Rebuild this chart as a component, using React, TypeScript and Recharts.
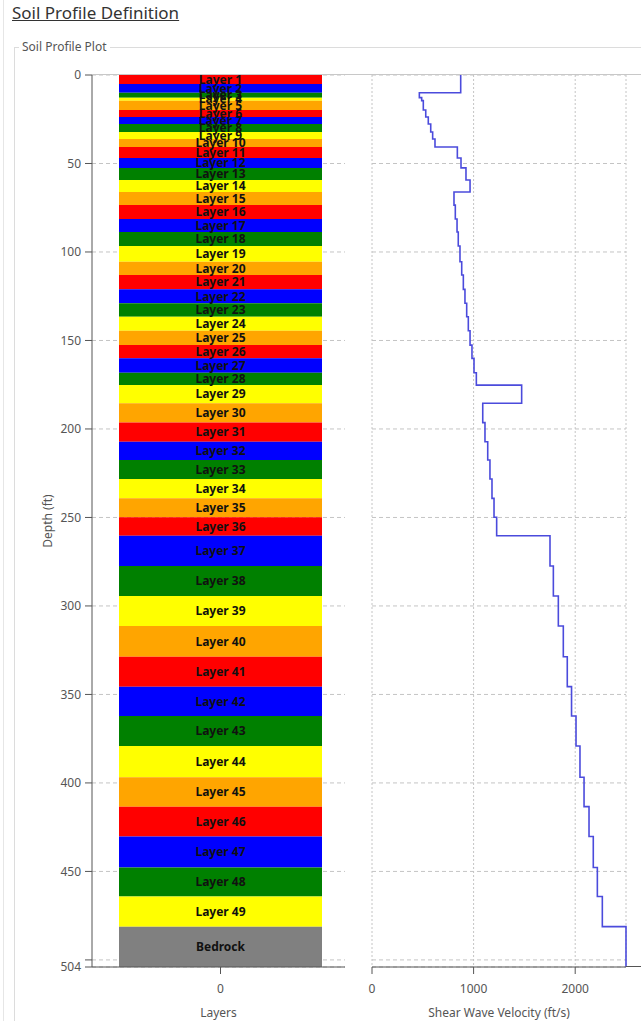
import React from 'react';
import {
  BarChart,
  Bar,
  LineChart,
  Line,
  XAxis,
  YAxis,
  CartesianGrid,
  LabelList,
} from 'recharts';

// layer names, top to bottom
const layerNames = [
  'Layer 1', 'Layer 2', 'Layer 3', 'Layer 4', 'Layer 5', 'Layer 6', 'Layer 7',
  'Layer 8', 'Layer 9', 'Layer 10', 'Layer 11', 'Layer 12', 'Layer 13', 'Layer 14',
  'Layer 15', 'Layer 16', 'Layer 17', 'Layer 18', 'Layer 19', 'Layer 20', 'Layer 21',
  'Layer 22', 'Layer 23', 'Layer 24', 'Layer 25', 'Layer 26', 'Layer 27', 'Layer 28',
  'Layer 29', 'Layer 30', 'Layer 31', 'Layer 32', 'Layer 33', 'Layer 34', 'Layer 35',
  'Layer 36', 'Layer 37', 'Layer 38', 'Layer 39', 'Layer 40', 'Layer 41', 'Layer 42',
  'Layer 43', 'Layer 44', 'Layer 45', 'Layer 46', 'Layer 47', 'Layer 48', 'Layer 49',
  'Bedrock',
];

// depth of the bottom of each layer (ft)
const layerBottoms = [
  5.1, 10.0, 12.8, 14.5, 19.8, 23.7, 27.7, 32.2, 36.2, 40.7,
  46.9, 52.5, 59.3, 66.1, 73.5, 81.4, 88.7, 96.6, 105.5, 113.0,
  121.1, 129.0, 136.6, 144.5, 152.6, 160.1, 168.2, 175.2, 185.5, 196.4,
  207.2, 217.5, 228.3, 239.2, 249.9, 260.3, 277.4, 294.4, 311.3, 328.7,
  345.6, 362.2, 379.1, 396.8, 413.4, 430.3, 447.8, 464.2, 481.2, 504,
];

// shear wave velocity of each layer (ft/s)
const shearVelocities = [
  873, 873, 466, 489, 505, 529, 554, 578, 597, 620,
  840, 876, 925, 965, 807, 820, 837, 849, 866, 883,
  899, 915, 932, 948, 965, 984, 1004, 1027, 1473, 1090,
  1112, 1139, 1161, 1181, 1201, 1227, 1752, 1785, 1834, 1883,
  1922, 1964, 2008, 2047, 2087, 2136, 2178, 2218, 2267, 2500,
];

const depthTicks = [0, 50, 100, 150, 200, 250, 300, 350, 400, 450, 500, 504];
const velocityTicks = [0, 1000, 2000];

const layerPalette = ['#ff0000', '#0000ff', '#008000', '#ffff00', '#ffa500'];
const bedrockColor = '#808080';

const FONT = '"Noto Sans", "Open Sans", sans-serif';
const AXIS = '#555';
const GRID = '#c4c4c4';

const layerTop = (i: number) => (i === 0 ? 0 : layerBottoms[i - 1]);

const layerRow: Record<string, number> = { layer: 0 };
layerNames.forEach((_, i) => {
  layerRow[`t${i}`] = layerBottoms[i] - layerTop(i);
});

// stepped profile: each layer is a vertical segment at its velocity
const profilePoints = layerNames.flatMap((_, i) => [
  { depth: layerTop(i), velocity: shearVelocities[i] },
  { depth: layerBottoms[i], velocity: shearVelocities[i] },
]);

const layerColor = (i: number) =>
  i === layerNames.length - 1 ? bedrockColor : layerPalette[i % layerPalette.length];

export default function App() {
  const tick = { fill: AXIS, fontSize: 12 };
  return (
    <div
      style={{
        position: 'relative',
        width: 641,
        height: 1021,
        overflow: 'hidden',
        background: '#fff',
        fontFamily: FONT,
      }}
    >
      <style>{'body{margin:0}'}</style>
      <div style={{ position: 'absolute', left: 3, top: 0, width: 1, height: 1021, background: '#e6e6e6' }} />
      <div
        style={{
          position: 'absolute',
          left: 12,
          top: 1,
          fontSize: 17,
          color: '#333',
          textDecoration: 'underline',
          lineHeight: '24px',
        }}
      >
        Soil Profile Definition
      </div>
      <div
        style={{
          position: 'absolute',
          left: 14,
          top: 47,
          width: 700,
          height: 1100,
          border: '1px solid #dcdcdc',
        }}
      />
      <div
        style={{
          position: 'absolute',
          left: 19,
          top: 39,
          padding: '0 3px',
          background: '#fff',
          fontSize: 12,
          color: '#555',
          lineHeight: '16px',
        }}
      >
        Soil Profile Plot
      </div>

      <div style={{ position: 'absolute', left: 0, top: 0 }}>
        <BarChart
          width={345}
          height={1021}
          data={[layerRow]}
          margin={{ top: 75, right: 0, bottom: 0, left: 0 }}
          barSize={203}
        >
          <CartesianGrid vertical={false} stroke={GRID} strokeDasharray="4 3" />
          <XAxis
            dataKey="layer"
            type="category"
            height={54}
            padding={{ left: 4, right: 0 }}
            tick={tick}
            tickSize={7}
            tickMargin={10}
            stroke={AXIS}
            label={{ value: 'Layers', position: 'insideBottom', offset: 4, fill: AXIS, fontSize: 12 }}
          />
          <YAxis
            type="number"
            domain={[0, 504]}
            reversed
            ticks={depthTicks}
            interval={0}
            width={92}
            tick={tick}
            tickSize={7}
            tickMargin={4}
            stroke={AXIS}
            tickFormatter={(v: number) => (v === 500 ? '' : String(v))}
            label={{ value: 'Depth (ft)', angle: -90, position: 'center', dx: 2, fill: AXIS, fontSize: 12 }}
          />
          {layerNames.map((name, i) => (
            <Bar
              key={name}
              dataKey={`t${i}`}
              stackId="soil"
              fill={layerColor(i)}
              isAnimationActive={false}
            >
              <LabelList
                dataKey={`t${i}`}
                position="center"
                formatter={() => name}
                fill="#111"
                fontSize={12}
                fontWeight={700}
              />
            </Bar>
          ))}
        </BarChart>
      </div>

      <div style={{ position: 'absolute', left: 345, top: 0 }}>
        <LineChart
          layout="vertical"
          width={296}
          height={1021}
          data={profilePoints}
          margin={{ top: 75, right: 15, bottom: 0, left: 27 }}
        >
          <CartesianGrid vertical={false} stroke={GRID} strokeDasharray="4 3" />
          <CartesianGrid horizontal={false} stroke={GRID} strokeDasharray="2 2" />
          <XAxis
            type="number"
            domain={[0, 2500]}
            ticks={velocityTicks}
            interval={0}
            height={54}
            tick={tick}
            tickSize={7}
            tickMargin={10}
            stroke={AXIS}
            label={{ value: 'Shear Wave Velocity (ft/s)', position: 'insideBottom', offset: 4, fill: AXIS, fontSize: 12 }}
          />
          <YAxis type="number" dataKey="depth" domain={[0, 504]} ticks={depthTicks} interval={0} hide />
          <Line
            dataKey="velocity"
            type="linear"
            stroke="#4b4bdc"
            strokeWidth={1.6}
            dot={false}
            activeDot={false}
            isAnimationActive={false}
          />
        </LineChart>
      </div>

      <div style={{ position: 'absolute', left: 92, top: 74, width: 549, height: 1, background: '#c8c8c8' }} />
      <div style={{ position: 'absolute', left: 626, top: 966, width: 15, height: 1, background: AXIS }} />
    </div>
  );
}
